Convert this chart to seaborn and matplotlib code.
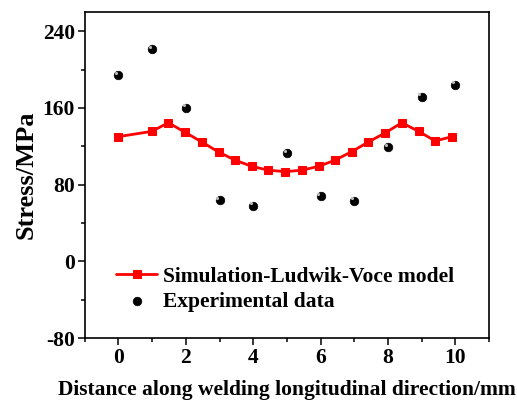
import numpy as np
import pandas as pd
import matplotlib.pyplot as plt
import seaborn as sns
from matplotlib.ticker import MultipleLocator

# simulation curve (Ludwik-Voce)
sim_x = [0, 0.99, 1.48, 1.98, 2.47, 2.97, 3.46, 3.96, 4.45, 4.95,
         5.44, 5.94, 6.43, 6.93, 7.42, 7.92, 8.41, 8.91, 9.40, 9.90]
sim_y = [130, 135.5, 144.5, 134.5, 124.5, 114, 105.5, 99, 95, 93.5,
         95, 99, 105.5, 114.5, 124.5, 134, 144.5, 135.5, 125.5, 130]

# experimental points
exp_x = [0, 1, 2, 3, 4, 5, 6, 7, 8, 9, 10]
exp_y = [194, 221, 160, 64, 58, 112.5, 68, 63, 119, 171.5, 184]

sim = pd.DataFrame({"x": sim_x, "y": sim_y})
exp = pd.DataFrame({"x": exp_x, "y": exp_y})

sns.set_style("ticks")
plt.rcParams['font.family'] = ['Liberation Serif', 'DejaVu Serif']
plt.rcParams['font.weight'] = 'bold'
plt.rcParams['axes.unicode_minus'] = False
for k in ['text.color', 'axes.labelcolor', 'xtick.color', 'ytick.color', 'axes.edgecolor']:
    plt.rcParams[k] = 'black'

fig = plt.figure(figsize=(5.17, 4), dpi=100)
ax = fig.add_axes([0.164, 0.155, 0.782, 0.815])

sns.lineplot(data=sim, x="x", y="y", ax=ax, color="red", lw=2,
             marker="s", markersize=5.5, markeredgecolor="red",
             label="Simulation-Ludwik-Voce model")
sns.scatterplot(data=exp, x="x", y="y", ax=ax, color="black", s=38,
                edgecolor="black", linewidth=0.5, label="Experimental data", zorder=3)
# small highlight to mimic the shaded spheres
ax.scatter(np.array(exp_x) - 0.07, np.array(exp_y) + 2.5, s=5, color="#bbbbbb",
           linewidths=0, zorder=4)

ax.set_xlim(-1, 11)
ax.set_ylim(-80, 260)
ax.xaxis.set_major_locator(MultipleLocator(2))
ax.xaxis.set_minor_locator(MultipleLocator(1))
ax.yaxis.set_major_locator(MultipleLocator(80))
ax.yaxis.set_minor_locator(MultipleLocator(40))
ax.tick_params(which="major", direction="out", length=5, width=1.1, labelsize=15.5, pad=2)
ax.tick_params(which="minor", direction="out", length=3, width=1.1)
for lab in ax.get_xticklabels() + ax.get_yticklabels():
    lab.set_fontweight("bold")
for sp in ax.spines.values():
    sp.set_visible(True)
    sp.set_linewidth(1.2)
    sp.set_color("black")

ax.set_xlabel("Distance along welding longitudinal direction/mm", fontsize=15.5,
              fontweight="bold", labelpad=8.5)
ax.set_ylabel("Stress/MPa", fontsize=19, fontweight="bold", labelpad=4)

ax.legend(loc="lower left", bbox_to_anchor=(0.03, 0.02), frameon=False,
          prop={"size": 15.5, "weight": "bold"}, handlelength=1.9,
          handletextpad=0.25, labelspacing=0.25)

fig.savefig("out.png", dpi=100)
